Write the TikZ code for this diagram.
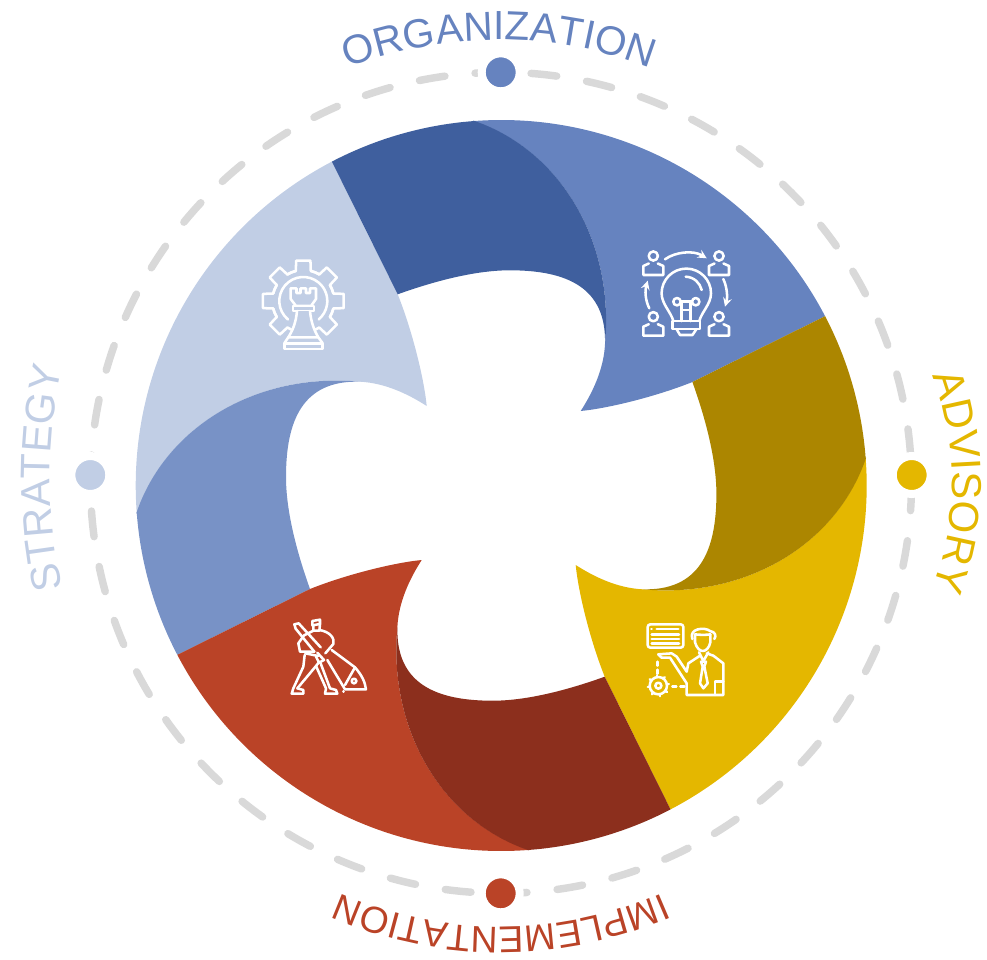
\documentclass[tikz,border=0pt]{standalone}
\usepackage{fontspec}
\setmainfont{Liberation Sans}
\usetikzlibrary{decorations.text}

\definecolor{orgblue}{HTML}{6683BF}
\definecolor{orgdark}{HTML}{3F5F9E}
\definecolor{stratpale}{HTML}{C1CEE5}
\definecolor{stratblue}{HTML}{7892C6}
\definecolor{advgold}{HTML}{E4B700}
\definecolor{advdark}{HTML}{AC8600}
\definecolor{implred}{HTML}{BA4327}
\definecolor{impldark}{HTML}{8C2F1D}
\definecolor{ringgray}{HTML}{D9D9D9}

\tikzset{
  icon/.style={draw=white,line width=1.9pt,line cap=round,line join=round},
  ringdash/.style={draw=ringgray,line width=5.6pt,line cap=round},
  ringdot/.style={draw=white,line width=6pt},
  arclabel/.style n args={3}{decorate,decoration={text along path,text align=center,
      text={|\color{#1}\fontsize{#2}{38}\selectfont|#3}}},
}

\begin{document}
\begin{tikzpicture}[x=0.75pt,y=-0.75pt,>=stealth]

\useasboundingbox (0,0) rectangle (987,959);

\coordinate (disc) at (501.2,485.5);
\coordinate (ring) at (501,482.8);

%% The dashed ring
\foreach \k in {-1,...,44}
  \draw [ringdash] (ring) ++({274.2+7.826*\k}:410.5)
    arc [start angle={274.2+7.826*\k},end angle={277.8+7.826*\k},radius=410.5];

%% The dots on the ring
\filldraw [ringdot,fill=orgblue]   (500.7,72.3)  circle (19);
\filldraw [ringdot,fill=advgold]   (911.7,475)   circle (19);
\filldraw [ringdot,fill=implred]   (500.7,893.3) circle (19);
\filldraw [ringdot,fill=stratpale] (90.3,475)    circle (19);

%% The labels
\path [arclabel={orgblue}{30.5}{ORGANIZATION}] (499,462) ++(225:422) arc [start angle=225,end angle=315,radius=422];
\path [arclabel={advgold}{31.5}{ADVISORY}] (653,482) ++(-45:299) arc [start angle=-45,end angle=45,radius=299];
\path [arclabel={implred}{28}{IMPLEMENTATION}] (501,529) ++(45:398) arc [start angle=45,end angle=135,radius=398];
\path [arclabel={stratpale}{31}{STRATEGY}] (550,478) ++(135:500) arc [start angle=135,end angle=225,radius=500];

%% The four blades, each with its fold
\foreach \bladecolor/\foldcolor/\turn in {stratpale/stratblue/0,orgblue/orgdark/-90,advgold/advdark/-180,implred/impldark/-270} {
  \begin{scope}[rotate around={\turn:(disc)}]
    \fill [\bladecolor] (disc) ++(242.4:365.5) arc [start angle=242.4,end angle=175.6,radius=365.5]
      .. controls (165,428) and (255,372) .. (360,381.7)
      .. controls (385,383) and (408,394) .. (426.7,406)
      .. controls (424,378) and (412,330) .. (397.7,294.3) -- cycle;
    \fill [\foldcolor] (disc) ++(175.6:365.5) arc [start angle=175.6,end angle=152.4,radius=365.5]
      -- (310,589)
      .. controls (296,550) and (286,510) .. (286,477)
      .. controls (286,420) and (303,380) .. (360,381.7)
      .. controls (255,372) and (165,428) .. (136.3,513.3) -- cycle;
  \end{scope}
}

%% The chess icon
\begin{scope}[shift={(303.3,301)}]
  \foreach \a in {-90,-45,0,45,135,180,225} {
    \draw [icon] (\a-14:31) -- (\a-10:41) -- (\a+10:41) -- (\a+14:31);
    \draw [icon] (\a+14:31) arc [start angle={\a+14},end angle={\a+31},radius=31];
    \draw [icon] (\a-14:31) arc [start angle={\a-14},end angle={\a-31},radius=31];
  }
  \draw [icon] (130:24) arc [start angle=130,end angle=410,radius=24];
\end{scope}
\filldraw [icon,fill=stratpale] (290.7,288.3) -- (296.5,288.3) -- (296.5,293) -- (300.5,293) -- (300.5,288.3) -- (306,288.3) -- (306,293) -- (310,293) -- (310,288.3) -- (316,288.3) -- (316,299) -- (311,306) -- (296,306) -- (290.7,299) -- cycle;
\filldraw [icon,fill=stratpale] (293,306) rectangle (314,311);
\filldraw [icon,fill=stratpale] (297,311) .. controls (296,322) and (293,330) .. (288.3,337.3) -- (318.3,337.3) .. controls (314,330) and (311,322) .. (310,311);
\draw [icon] (284.3,343.3) rectangle (322.7,349);
\draw [icon] (288.3,337.3) -- (284.3,343.3);
\draw [icon] (318.3,337.3) -- (322.7,343.3);

%% The bulb icon
\foreach \px/\py in {653.3/256,719/256,653.3/316.7,719/316.7} {
  \draw [icon] (\px,\py) circle (4.6);
  \draw [icon] (\px-4.5,\py+7.5) -- (\px-10,\py+10) -- (\px-10,\py+19) -- (\px+10,\py+19) -- (\px+10,\py+10) -- (\px+4.5,\py+7.5);
}
\draw [icon,->] (665,259.3) .. controls (675,252) and (693,250) .. (706.7,258.3);
\draw [icon,->] (723.3,279) .. controls (727.5,288) and (727.5,298) .. (725,306.7);
\draw [icon,->] (649.3,308.3) .. controls (645,300) and (645,290) .. (647.7,280.7);
\draw [icon] (673.3,321) .. controls (671,312) and (661.6,304) .. (661.6,293.3) arc [start angle=180,end angle=360,radius=24.7] .. controls (711,304) and (701.6,312) .. (699.3,321);
\draw [icon] (672.7,321) rectangle (700,329);
\draw [icon] (676.5,329) -- (680,335) -- (692.5,335) -- (696.5,329);
\draw [icon] (677,301.7) circle (3.7) (695.7,301.7) circle (3.7);
\draw [icon] (680.7,301.7) -- (692,301.7) (681.7,301.7) -- (681.7,321) (690.7,301.7) -- (690.7,321) (681.7,310) -- (690.7,310);
\draw [icon] (685.7,276.7) .. controls (694,277) and (700,283) .. (701.7,290);

%% The digging man icon
\begin{scope}[shift={(280,610)},x=0.25pt,y=-0.25pt]
  \draw [icon] (155,120) -- (225,172) .. controls (245,195) and (255,215) .. (258,238) -- (195,238) -- (142,150);
  \draw [icon] (195,225) -- (225,172);
  \draw [icon] (222,213) circle (7);
  \draw [icon] (190,244) -- (191,244);
  \draw [icon] (47,56) -- (43,43) -- (56,40) -- (122,112);
  \draw [icon] (47,56) -- (103,125);
  \draw [icon] (97,33) -- (120,29) -- (120,42) -- (97,46) -- cycle;
  \draw [icon] (100,46) -- (100,62) -- (118,62) -- (120,42);
  \draw [icon] (100,62) -- (72,76);
  \draw [icon] (118,60) .. controls (150,65) and (165,85) .. (160,102) -- (136,130);
  \draw [icon] (72,76) -- (55,100) -- (60,125) -- (103,125);
  \draw [icon] (76,130) -- (115,138);
  \draw [icon] (112,128) -- (132,150) -- (117,158) -- (108,140);
  \draw [icon] (74,135) -- (70,170) -- (40,235) -- (35,251) -- (70,251) -- (70,240) -- (52,235);
  \draw [icon] (52,235) -- (108,168) -- (118,155);
  \draw [icon] (108,168) -- (138,235) -- (135,251) -- (172,251) -- (168,240) -- (150,235) -- (122,160);
\end{scope}

%% The presenter icon
\begin{scope}[shift={(635,615)},x=0.25pt,y=-0.25pt]
  \draw [icon,rounded corners=2pt] (38,28) rectangle (145,98);
  \draw [icon] (65,42) -- (130,42) (50,58) -- (132,58) (50,72) -- (132,72) (50,86) -- (132,86) (49,42) -- (50,42);
  \draw [icon] (180,58) -- (180,82) .. controls (185,100) and (195,108) .. (203,108) .. controls (212,108) and (222,100) .. (226,82) -- (226,58);
  \draw [icon] (172,72) .. controls (160,40) and (210,35) .. (225,48) .. controls (240,50) and (245,62) .. (238,72);
  \draw [icon] (180,58) .. controls (195,60) and (215,60) .. (226,58);
  \draw [icon] (70,118) -- (110,115) -- (125,125) -- (155,170) -- (160,145) -- (195,122);
  \draw [icon] (70,118) -- (80,128) -- (105,128) -- (155,205) -- (155,240) -- (265,240) -- (265,145) -- (235,122) -- (215,115);
  \draw [icon] (192,112) -- (205,138) -- (220,112);
  \draw [icon] (198,140) -- (213,140) -- (208,155) -- (218,205) -- (205,220) -- (195,205) -- (203,155) -- cycle;
  \draw [icon] (240,240) -- (240,200) -- (265,200);
  \draw [icon,dashed] (68,140) -- (68,178);
  \draw [icon,dashed] (112,215) -- (148,215);
  \foreach \a in {0,45,...,315}
    \draw [icon] (70,212) ++(\a-10:26) -- ++(\a:6);
  \draw [icon] (70,212) circle (26) (70,212) circle (9);
\end{scope}

\end{tikzpicture}
\end{document}
